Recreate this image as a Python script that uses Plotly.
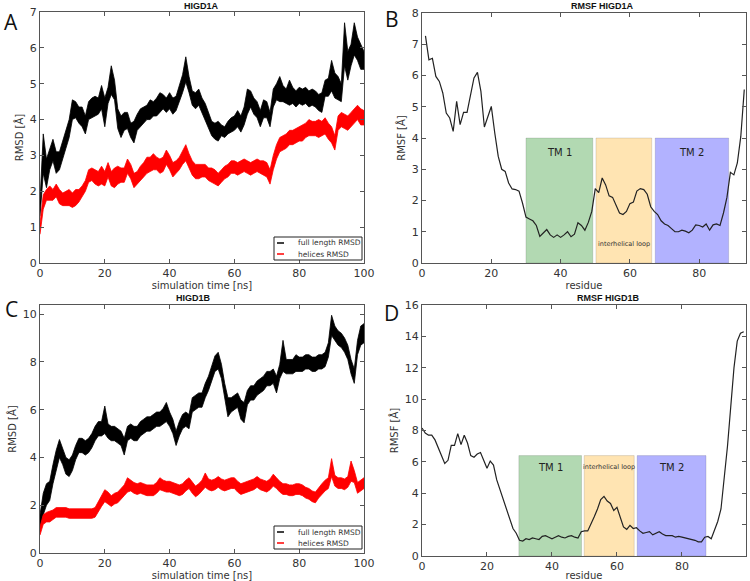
import numpy as np
import plotly.graph_objects as go
from plotly.subplots import make_subplots

# ---------------- data ----------------
# RMSD traces are very noisy; each one is given as the upper and lower edge of its
# noise band, read at every 1 ns from 0 to 100 ns.
time_ns = list(range(0, 101))

a_full_hi = [1.7, 3.6, 2.9, 3.2, 3.45, 3.1, 3.1, 3.4, 3.7, 4.0,
             4.55, 4.5, 4.35, 4.35, 4.1, 4.5, 4.6, 4.65, 4.6, 4.95,
             4.6, 4.9, 5.5, 5.1, 4.3, 4.1, 4.2, 4.2, 3.9, 3.95,
             4.15, 4.3, 4.35, 4.4, 4.55, 4.5, 4.6, 4.75, 4.7, 4.6,
             4.75, 4.6, 4.65, 4.95, 5.25, 5.75, 5.2, 4.8, 4.75, 4.85,
             4.6, 4.45, 4.2, 3.95, 3.9, 3.95, 3.85, 3.8, 3.95, 4.05,
             4.1, 4.25, 4.1, 4.35, 4.85, 4.8, 4.6, 4.5, 4.25, 4.55,
             4.5, 4.2, 4.85, 5.0, 5.2, 4.95, 4.85, 5.1, 4.9, 4.8,
             4.9, 4.85, 4.9, 4.8, 4.85, 4.8, 4.7, 4.75, 5.1, 5.15,
             5.65, 5.3, 5.2, 5.0, 6.7, 5.9, 6.1, 6.7, 6.3, 6.1, 5.9]
a_full_lo = [1.3, 2.5, 2.1, 2.6, 2.85, 2.5, 2.6, 2.9, 3.2, 3.5,
             4.0, 4.05, 3.9, 3.8, 3.6, 4.0, 4.05, 4.1, 4.15, 4.3,
             3.8, 4.45, 4.7, 4.55, 3.75, 3.5, 3.7, 3.75, 3.5, 3.35,
             3.7, 3.8, 3.9, 4.0, 4.0, 4.1, 4.1, 4.2, 4.3, 4.2,
             4.3, 4.15, 4.25, 4.5, 4.75, 5.05, 4.75, 4.4, 4.3, 4.4,
             4.2, 3.95, 3.75, 3.55, 3.45, 3.4, 3.55, 3.5, 3.6, 3.65,
             3.7, 3.8, 3.65, 3.85, 4.15, 4.35, 4.15, 4.05, 3.8, 4.05,
             4.05, 3.8, 4.35, 4.55, 4.5, 4.5, 4.45, 4.4, 4.45, 4.35,
             4.45, 4.4, 4.45, 4.35, 4.4, 4.35, 4.25, 4.2, 4.65, 4.65,
             4.8, 4.6, 4.55, 4.5, 5.5, 5.1, 5.5, 5.8, 5.65, 5.4, 5.4]

a_helices_hi = [1.1, 1.9, 2.05, 2.15, 2.05, 2.2, 2.05, 1.95, 2.0, 2.05,
                1.95, 2.05, 2.05, 2.15, 2.3, 2.6, 2.65, 2.6, 2.55, 2.7,
                2.55, 2.8, 2.55, 2.65, 2.7, 2.65, 2.65, 2.9, 2.75, 2.5,
                2.55, 2.7, 2.8, 2.95, 2.95, 3.05, 2.95, 2.9, 2.95, 3.15,
                3.0, 2.8, 2.85, 2.95, 3.15, 3.3, 3.05, 2.85, 2.75, 2.75,
                2.75, 2.75, 2.65, 2.65, 2.6, 2.5, 2.6, 2.7, 2.75, 2.85,
                2.85, 2.8, 2.85, 2.9, 2.85, 2.8, 2.85, 2.9, 2.85, 2.85,
                2.8, 2.6, 3.0, 3.3, 3.5, 3.55, 3.6, 3.7, 3.7, 3.75,
                3.8, 3.85, 3.9, 4.0, 3.95, 3.95, 4.0, 3.95, 4.05, 3.9,
                3.8, 3.55, 4.1, 4.2, 4.15, 4.1, 4.2, 4.3, 4.4, 4.3, 4.25]
a_helices_lo = [0.8, 1.5, 1.75, 1.75, 1.75, 1.85, 1.65, 1.6, 1.6, 1.6,
                1.55, 1.6, 1.7, 1.85, 2.0, 2.25, 2.3, 2.2, 2.15, 2.2,
                2.15, 2.4, 2.15, 2.1, 2.2, 2.25, 2.25, 2.5, 2.35, 2.1,
                2.2, 2.3, 2.4, 2.5, 2.55, 2.6, 2.6, 2.5, 2.55, 2.75,
                2.6, 2.4, 2.5, 2.6, 2.75, 2.85, 2.65, 2.45, 2.35, 2.35,
                2.4, 2.4, 2.3, 2.25, 2.2, 2.15, 2.25, 2.35, 2.4, 2.5,
                2.5, 2.45, 2.5, 2.55, 2.5, 2.45, 2.5, 2.55, 2.5, 2.45,
                2.4, 2.2, 2.6, 2.9, 3.1, 3.15, 3.2, 3.3, 3.3, 3.35,
                3.4, 3.4, 3.5, 3.55, 3.55, 3.55, 3.5, 3.55, 3.6, 3.45,
                3.35, 3.15, 3.7, 3.8, 3.75, 3.7, 3.8, 3.9, 4.0, 3.85, 3.85]

c_full_hi = [1.6, 2.5, 2.9, 3.0, 3.7, 4.3, 4.75, 4.4, 4.0, 3.9,
             4.1, 4.5, 4.8, 4.8, 4.7, 4.8, 5.0, 5.3, 5.5, 5.5,
             6.15, 5.4, 5.3, 5.3, 5.2, 5.1, 4.8, 5.3, 5.4, 5.3,
             5.3, 5.5, 5.6, 5.7, 5.7, 5.8, 5.9, 5.9, 6.05, 6.3,
             5.9, 5.6, 5.1, 5.5, 5.8, 5.9, 5.8, 6.5, 6.6, 6.7,
             6.7, 7.1, 7.4, 7.8, 8.25, 8.4, 7.9, 7.1, 6.5, 6.5,
             6.6, 6.7, 6.4, 6.3, 6.8, 7.0, 7.0, 7.2, 7.3, 7.4,
             7.6, 7.6, 7.7, 7.4, 7.9, 8.9, 8.1, 8.1, 8.1, 8.3,
             8.2, 8.2, 8.3, 8.3, 8.2, 8.2, 8.3, 8.3, 8.4, 8.8,
             9.95, 9.5, 9.3, 9.2, 9.0, 8.7, 8.1, 7.7, 8.9, 9.5, 9.6]
c_full_lo = [1.0, 1.6, 2.0, 2.2, 2.9, 3.5, 4.0, 3.7, 3.3, 3.2,
             3.45, 3.9, 4.2, 4.2, 4.1, 4.2, 4.4, 4.7, 4.9, 4.9,
             5.0, 4.8, 4.7, 4.7, 4.6, 4.5, 4.1, 4.7, 4.8, 4.7,
             4.7, 4.9, 5.0, 5.1, 5.1, 5.2, 5.3, 5.3, 5.4, 5.5,
             5.3, 5.0, 4.5, 4.9, 5.2, 5.3, 5.2, 5.9, 6.0, 6.1,
             6.1, 6.5, 6.8, 7.2, 7.6, 7.7, 7.3, 6.5, 5.7, 5.9,
             6.0, 6.1, 5.6, 5.45, 6.2, 6.4, 6.4, 6.6, 6.7, 6.8,
             7.0, 7.0, 7.1, 6.7, 7.3, 7.6, 7.5, 7.5, 7.5, 7.6,
             7.6, 7.6, 7.7, 7.7, 7.6, 7.6, 7.7, 7.7, 7.8, 8.2,
             9.1, 8.9, 8.7, 8.6, 8.4, 8.1, 7.5, 7.1, 8.3, 8.7, 8.8]

c_helices_hi = [1.1, 1.6, 1.7, 1.75, 1.8, 1.9, 1.9, 1.9, 1.9, 1.85,
                1.85, 1.85, 1.85, 1.85, 1.85, 1.85, 1.85, 1.9, 2.15, 2.45,
                2.65, 2.55, 2.4, 2.5, 2.55, 2.7, 2.85, 3.15, 3.05, 2.95,
                2.9, 2.95, 2.9, 2.85, 2.85, 2.85, 2.95, 3.15, 3.05, 3.0,
                3.0, 2.95, 2.9, 2.85, 2.9, 3.05, 3.15, 2.95, 2.8, 2.9,
                3.05, 3.35, 3.1, 3.05, 3.1, 3.2, 3.1, 3.05, 3.1, 3.15,
                3.15, 3.0, 2.9, 2.95, 3.0, 3.05, 3.1, 3.2, 3.1, 3.05,
                3.0, 3.1, 3.3, 3.15, 3.0, 2.9, 2.9, 2.85, 2.85, 2.9,
                2.9, 2.85, 2.75, 2.7, 2.6, 2.55, 2.75, 2.9, 3.05, 3.15,
                3.95, 3.25, 3.15, 3.15, 3.1, 3.2, 3.85, 3.45, 2.95, 3.05, 3.15]
c_helices_lo = [0.75, 1.2, 1.3, 1.3, 1.4, 1.5, 1.5, 1.5, 1.5, 1.45,
                1.45, 1.45, 1.45, 1.45, 1.45, 1.45, 1.45, 1.5, 1.7, 1.95,
                2.15, 2.05, 1.95, 2.05, 2.1, 2.25, 2.4, 2.55, 2.6, 2.5,
                2.45, 2.5, 2.45, 2.4, 2.4, 2.4, 2.5, 2.65, 2.6, 2.55,
                2.55, 2.5, 2.45, 2.4, 2.45, 2.6, 2.7, 2.5, 2.35, 2.45,
                2.6, 2.75, 2.65, 2.6, 2.65, 2.75, 2.65, 2.6, 2.65, 2.7,
                2.7, 2.55, 2.45, 2.5, 2.55, 2.6, 2.65, 2.75, 2.65, 2.6,
                2.55, 2.65, 2.8, 2.7, 2.55, 2.45, 2.45, 2.4, 2.4, 2.45,
                2.45, 2.4, 2.3, 2.25, 2.15, 2.1, 2.3, 2.45, 2.6, 2.7,
                3.2, 2.8, 2.7, 2.7, 2.65, 2.75, 3.0, 2.95, 2.5, 2.6, 2.7]

# RMSF per residue
b_residue = list(range(1, 94))
b_rmsf = [7.27, 6.5, 6.55, 5.97, 5.81, 5.44, 4.8, 4.64, 4.21, 5.17,
          4.43, 4.82, 4.82, 5.33, 5.92, 6.1, 5.49, 4.35, 4.69, 5.01,
          4.16, 3.41, 3.0, 2.93, 2.56, 2.37, 2.35, 2.3, 1.92, 1.47,
          1.41, 1.35, 1.2, 0.85, 0.96, 1.07, 0.9, 0.82, 0.9, 0.82,
          0.9, 1.0, 0.84, 0.92, 1.29, 1.2, 1.05, 1.3, 1.65, 2.38,
          2.25, 2.72, 2.5, 2.15, 2.1, 1.85, 1.6, 1.55, 1.65, 1.9,
          1.95, 2.3, 2.38, 2.35, 2.2, 1.8, 1.65, 1.55, 1.35, 1.25,
          1.2, 1.1, 1.0, 1.0, 1.05, 1.02, 0.97, 1.05, 1.22, 1.2,
          1.15, 1.25, 1.05, 1.22, 1.25, 1.2, 1.6, 2.1, 2.9, 2.82,
          3.2, 4.05, 5.55]
d_residue = list(range(0, 100))
d_rmsf = [8.16, 7.84, 7.7, 7.7, 7.4, 6.9, 6.3, 5.9, 6.1, 7.05,
          7.05, 7.8, 7.1, 7.7, 7.2, 6.4, 6.3, 6.5, 6.6, 6.1,
          5.6, 6.05, 5.8, 4.85, 4.2, 3.55, 2.9, 2.3, 1.75, 1.45,
          1.0, 0.95, 1.1, 1.05, 1.15, 1.1, 1.05, 1.25, 1.3, 1.2,
          1.1, 1.2, 1.3, 1.2, 1.15, 1.25, 1.3, 1.2, 1.15, 1.55,
          1.6, 1.6, 2.0, 2.5, 3.0, 3.6, 3.8, 3.5, 3.35, 2.9,
          3.1, 2.4, 1.85, 1.7, 1.95, 1.75, 1.8, 1.6, 1.45, 1.5,
          1.55, 1.35, 1.45, 1.55, 1.4, 1.3, 1.3, 1.3, 1.2, 1.25,
          1.2, 1.15, 1.1, 1.05, 1.0, 0.9, 0.9, 1.2, 1.25, 1.1,
          1.6, 2.2, 3.0, 4.8, 7.0, 9.5, 12.0, 13.7, 14.2, 14.3]

# Domain regions (start residue, end residue, label)
regions_b = [(30, 49.3, "TM 1"), (50.2, 66.3, "interhelical loop"), (67.3, 88.5, "TM 2")]
regions_d = [(29.8, 49.1, "TM 1"), (49.9, 65.3, "interhelical loop"), (66.2, 87.4, "TM 2")]
region_colors = ["rgba(0,128,0,0.3)", "rgba(255,165,0,0.3)", "rgba(0,0,255,0.3)"]
box_top_b = 4.0
box_top_d = 6.4

series_names = ["full length RMSD", "helices RMSD"]
series_colors = ["#000000", "#ff0000"]

# ---------------- figure ----------------
W, H = 750, 581
def px(x):
    return x / W
def py(y):
    return 1 - y / H

fig = make_subplots(rows=2, cols=2)

def band_trace(hi, lo, name, color):
    xs = list(time_ns) + list(time_ns)[::-1]
    ys = list(hi) + list(lo)[::-1]
    return go.Scatter(x=xs, y=ys, mode="lines", fill="toself", fillcolor=color, name=name,
                      line=dict(color=color, width=0.8))

fig.add_trace(band_trace(a_full_hi, a_full_lo, series_names[0], series_colors[0]), row=1, col=1)
fig.add_trace(band_trace(a_helices_hi, a_helices_lo, series_names[1], series_colors[1]), row=1, col=1)
fig.add_trace(go.Scatter(x=b_residue, y=b_rmsf, mode="lines", name="RMSF HIGD1A",
                         line=dict(color="#222222", width=1.2)), row=1, col=2)
fig.add_trace(band_trace(c_full_hi, c_full_lo, series_names[0], series_colors[0]), row=2, col=1)
fig.add_trace(band_trace(c_helices_hi, c_helices_lo, series_names[1], series_colors[1]), row=2, col=1)
fig.add_trace(go.Scatter(x=d_residue, y=d_rmsf, mode="lines", name="RMSF HIGD1B",
                         line=dict(color="#222222", width=1.2)), row=2, col=2)

# plot-area boxes in pixels, measured on the reference
dom = {
    "A": ([40, 364], [12, 263]),
    "B": ([422, 746], [13, 263]),
    "C": ([40, 364], [305, 553]),
    "D": ([422, 746], [305, 556]),
}
ax_names = {"A": ("xaxis", "yaxis"), "B": ("xaxis2", "yaxis2"),
            "C": ("xaxis3", "yaxis3"), "D": ("xaxis4", "yaxis4")}

tickfont = dict(family="DejaVu Sans", size=11, color="#333333")
common = dict(showgrid=False, zeroline=False, showline=True, linecolor="#555555", linewidth=1,
              mirror="ticks", ticks="inside", ticklen=4, tickcolor="#555555", tickwidth=1,
              tickfont=tickfont, automargin=False)

x_ranges = {"A": [0, 100], "B": [0, 93.5], "C": [0, 100], "D": [0, 99.7]}
y_ranges = {"A": [0, 7], "B": [0, 8], "C": [0, 10.38], "D": [0, 16]}
x_dticks = {"A": 20, "B": 20, "C": 20, "D": 20}
y_dticks = {"A": 1, "B": 1, "C": 2, "D": 2}
x_titles = {"A": "simulation time [ns]", "B": "residue", "C": "simulation time [ns]", "D": "residue"}
y_titles = {"A": "RMSD [Å]", "B": "RMSF [Å]", "C": "RMSD [Å]", "D": "RMSF [Å]"}

for k, (xs, ys) in dom.items():
    xa, ya = ax_names[k]
    fig.layout[xa].update(domain=[px(xs[0]), px(xs[1])], range=x_ranges[k], dtick=x_dticks[k],
                          tick0=0,
                          title=dict(text=x_titles[k], font=dict(family="DejaVu Sans", size=10, color="#333333"),
                                     standoff=0), **common)
    fig.layout[ya].update(domain=[py(ys[1]), py(ys[0])], range=y_ranges[k], dtick=y_dticks[k],
                          tick0=0,
                          title=dict(text=y_titles[k], font=dict(family="DejaVu Sans", size=10, color="#333333"),
                                     standoff=4), **common)

# region boxes
for (regs, top, xr, yr) in [(regions_b, box_top_b, "x2", "y2"), (regions_d, box_top_d, "x4", "y4")]:
    for (x0, x1, lab), col in zip(regs, region_colors):
        fig.add_shape(type="rect", xref=xr, yref=yr, x0=x0, x1=x1, y0=0, y1=top,
                      fillcolor=col, line=dict(color="rgba(0,0,0,0.12)", width=1), layer="below")
        if lab == "interhelical loop":
            ly = 0.6 if xr == "x2" else top - 0.7
            fig.add_annotation(x=(x0 + x1) / 2, y=ly, xref=xr, yref=yr, text=lab, showarrow=False,
                               font=dict(family="DejaVu Sans", size=6.5, color="#333333"))
        else:
            ly = top - 0.45 if xr == "x2" else top - 0.75
            fig.add_annotation(x=(x0 + x1) / 2, y=ly, xref=xr, yref=yr, text=lab, showarrow=False,
                               font=dict(family="DejaVu Sans", size=10, color="#222222"))

# panel titles
titles = [("HIGD1A", 202, 6), ("RMSF HIGD1A", 602, 6), ("HIGD1B", 193, 298), ("RMSF HIGD1B", 608, 298)]
for txt, x, y in titles:
    fig.add_annotation(x=px(x), y=py(y), xref="paper", yref="paper", text="<b>%s</b>" % txt,
                       showarrow=False, font=dict(family="Liberation Sans", size=9, color="#111111"),
                       xanchor="center", yanchor="middle")

# panel letters
letters = [("A", 11, 22), ("B", 392, 19), ("C", 11, 309), ("D", 392, 313)]
for txt, x, y in letters:
    fig.add_annotation(x=px(x), y=py(y), xref="paper", yref="paper", text=txt, showarrow=False,
                       font=dict(family="Open Sans", size=21, color="#111111"),
                       xanchor="center", yanchor="middle")

# legends (drawn inside the RMSD panels)
for (bx0, by0, bx1, by1) in [(274, 237, 362, 260), (274, 526, 362, 549)]:
    fig.add_shape(type="rect", xref="paper", yref="paper", x0=px(bx0), x1=px(bx1), y0=py(by1), y1=py(by0),
                  line=dict(color="#222222", width=1), fillcolor="white")
    for i, (name, col) in enumerate(zip(series_names, series_colors)):
        ly = by0 + 6 + i * 11
        fig.add_shape(type="line", xref="paper", yref="paper", x0=px(bx0 + 3), x1=px(bx0 + 10),
                      y0=py(ly), y1=py(ly), line=dict(color=col, width=1.5))
        fig.add_annotation(x=px(bx0 + 22), y=py(ly), xref="paper", yref="paper", text=name,
                           showarrow=False, xanchor="left", yanchor="middle",
                           font=dict(family="DejaVu Sans", size=7.5, color="#333333"))

fig.update_layout(width=W, height=H, margin=dict(l=0, r=0, t=0, b=0), showlegend=False,
                  paper_bgcolor="white", plot_bgcolor="white")

fig.write_html("out.html", config={"displayModeBar": False},
               post_script="document.body.style.margin='0px';document.body.style.overflow='hidden';")
